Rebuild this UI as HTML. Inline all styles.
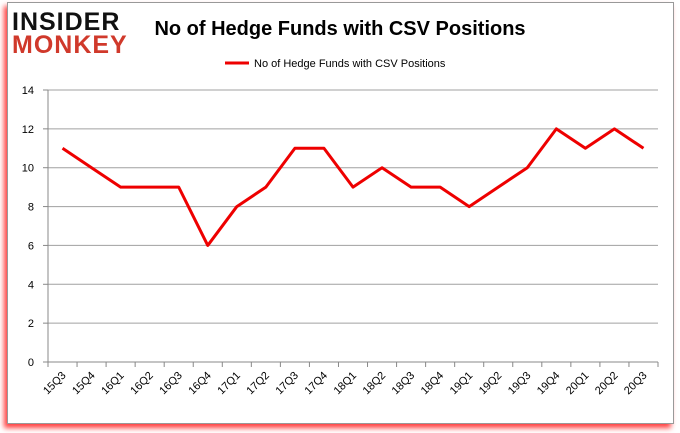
<!DOCTYPE html>
<html><head><meta charset="utf-8"><style>
body{margin:0;background:#fff;width:680px;height:433px;overflow:hidden;font-family:"Liberation Sans",sans-serif}
#card{position:absolute;left:7px;top:2px;width:665px;height:420px;border:1px solid #999;background:#fff;box-shadow:-3px 4px 5px rgba(255,0,0,0.75)}
svg{position:absolute;left:0;top:0}
</style></head><body>
<div id="card"></div>
<svg id="chart" width="680" height="433">
<text x="12" y="30" font-size="25" font-weight="bold" fill="#111" font-family="Liberation Sans" letter-spacing="1">INSIDER</text>
<text x="12" y="53" font-size="25" font-weight="bold" fill="#d0392b" font-family="Liberation Sans" letter-spacing="1">MONKEY</text>
<text x="340" y="35" font-size="20" font-weight="bold" text-anchor="middle" fill="#000">No of Hedge Funds with CSV Positions</text>
<line x1="225" y1="63" x2="249" y2="63" stroke="#e00" stroke-width="3"/>
<text x="254" y="67" font-size="11" fill="#000">No of Hedge Funds with CSV Positions</text>
<g id="grid"></g><g id="axes"></g>
</svg>
<script>
const categories=["15Q3","15Q4","16Q1","16Q2","16Q3","16Q4","17Q1","17Q2","17Q3","17Q4","18Q1","18Q2","18Q3","18Q4","19Q1","19Q2","19Q3","19Q4","20Q1","20Q2","20Q3"];
const values=[11,10,9,9,9,6,8,9,11,11,9,10,9,9,8,9,10,12,11,12,11];
const yTicks=[0,2,4,6,8,10,12,14];
const NS="http://www.w3.org/2000/svg";
const X0=48,X1=658,Y0=362,Y1=90,YMAX=14;
const band=(X1-X0)/categories.length;
const xs=i=>X0+band*(i+0.5);
const ys=v=>Y0-(v/YMAX)*(Y0-Y1);
const svg=document.getElementById('chart');
function mk(t,a){const e=document.createElementNS(NS,t);for(const k in a)e.setAttribute(k,a[k]);svg.appendChild(e);return e;}
yTicks.forEach(v=>{
  const y=ys(v);
  const g=mk('line',{x1:X0,x2:X1,y1:y,y2:y,stroke:v===0?'#888':'#a0a0a0','stroke-width':1});
  
  
  const tk=mk('line',{x1:X0-5,x2:X0,y1:y,y2:y,stroke:'#888'});
  
  
  const t=mk('text',{x:X0-14,y:y+4,'font-size':11,'text-anchor':'end',fill:'#000'});
  t.textContent=v;
  
  
});
const ax=mk('line',{x1:X0,x2:X0,y1:Y1,y2:Y0,stroke:'#888'});


for(let i=0;i<=categories.length;i++){
  const x=X0+band*i;
  const tk=mk('line',{x1:x,x2:x,y1:Y0,y2:Y0+5,stroke:'#888'});
  
  
}
categories.forEach((c,i)=>{
  const x=xs(i)+4,y=Y0+14;
  const t=mk('text',{x:x,y:y,'font-size':11,'text-anchor':'end',fill:'#000',transform:`rotate(-45 ${x} ${y})`});
  t.textContent=c;
  
  
});
const pts=values.map((v,i)=>xs(i)+','+ys(v)).join(' ');
const pl=mk('polyline',{points:pts,fill:'none',stroke:'#e00','stroke-width':3,'stroke-linejoin':'round'});


</script>
</body></html>
